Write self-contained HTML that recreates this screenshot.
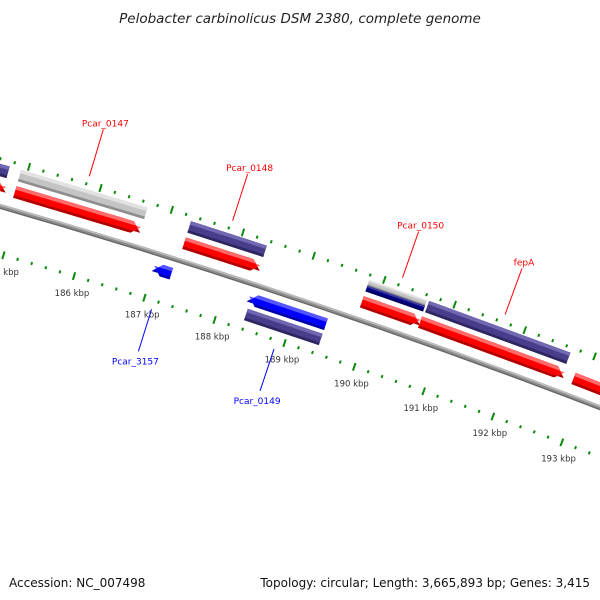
<!DOCTYPE html>
<html><head><meta charset="utf-8"><style>
html,body{margin:0;padding:0;background:#fff;}
svg{display:block;font-family:"DejaVu Sans","Liberation Sans",sans-serif;}
</style></head><body>
<svg id="map" width="600" height="600" viewBox="0 0 600 600">
<rect x="0" y="0" width="600" height="600" fill="#fff"/>
<text x="300" y="23" text-anchor="middle" font-size="13.5" font-style="italic" fill="#222">Pelobacter carbinolicus DSM 2380, complete genome</text>
<g id="ticks"></g>
<g id="backbone"></g>
<g id="features"></g>
<g id="labels"></g>
<text x="9" y="587" font-size="12" fill="#111">Accession: NC_007498</text>
<text x="590" y="587" font-size="12" fill="#111" text-anchor="end">Topology: circular; Length: 3,665,893 bp; Genes: 3,415</text>
</svg>
<script>
// data (kbp)
const featStart = [184.0, 184.91, 187.29, 189.81, 190.64, 192.84, 183.9, 184.91, 187.29, 189.81, 190.66, 187.03, 188.38, 188.38];
const featEnd   = [184.75, 186.64, 188.33, 190.61, 192.67, 194.6, 184.75, 186.68, 188.36, 190.63, 192.68, 187.25, 189.45, 189.45];
const featTrack = [18, 18, 18, 18, 18, 18, 35, 35, 35, 35, 35, -15, -15, -31];
const featStrand = [1, 1, 1, 1, 1, 1, 0, 0, 0, 0, 0, -1, -1, 0];
const featColor = ["red","red","red","red","red","red","slate","gray","slate","graynavy","slate","blue","blue","slate"];
const labelText = ["Pcar_0147","Pcar_0148","Pcar_0150","fepA","Pcar_3157","Pcar_0149"];
const labelKbp = [185.81, 187.82, 190.22, 191.68, 187.14, 188.89];
const labelSide = [1, 1, 1, 1, -1, -1];
const tickMajor = [183,184,185,186,187,188,189,190,191,192,193,194];
const tickLabels = ["183 kbp","184 kbp","185 kbp","186 kbp","187 kbp","188 kbp","189 kbp","190 kbp","191 kbp","192 kbp","193 kbp","194 kbp"];

const NS="http://www.w3.org/2000/svg";
const CX=-1997, CY=7152, R=7227;
function ang(k){return (-72.65+(k-187)*0.5875)*Math.PI/180;}
function pt(off,k){const a=ang(k);return [CX+(R+off)*Math.cos(a), CY+(R+off)*Math.sin(a)];}
function mk(tag,attrs,parent){const e=document.createElementNS(NS,tag);for(const k in attrs)e.setAttribute(k,attrs[k]);parent.appendChild(e);return e;}

// ticks
const tg=document.getElementById('ticks');
for(let i=0;i<=60;i++){
  const k=183+i*0.2;
  const major=Math.abs(k-Math.round(k))<1e-6;
  [46,-46].forEach(function(ring){
    const h=major?4:1.5;
    const a=pt(ring-h,k), b=pt(ring+h,k);
    const ln=mk('line',{x1:a[0],y1:a[1],x2:b[0],y2:b[1],stroke:'#0a8a0a','stroke-width':2},tg);
    
    
  });
}
tickMajor.forEach(function(k,i){
  const p=pt(-63.5,k);
  const t=mk('text',{x:p[0]+3,y:p[1]+3,'text-anchor':'middle','font-size':8.5,fill:'#333'},tg);
  t.textContent=tickLabels[i];
  
  
});

// backbone
const bg=document.getElementById('backbone');
function arcLine(off,col,w,parent,name){
  const a=pt(off,182.5), b=pt(off,195);
  const p=mk('path',{d:'M'+a[0]+','+a[1]+' A'+(R+off)+','+(R+off)+' 0 0 1 '+b[0]+','+b[1],fill:'none',stroke:col,'stroke-width':w},parent);
  
  
}
arcLine(0,'#8c8c8c',5,bg,'backbone-line');
arcLine(1.5,'#bdbdbd',1.6,bg,'backbone-highlight');
arcLine(-1.8,'#666',1.2,bg,'backbone-shadow');

// features
const palette={red:['#ff0000','#ff6b6b','#b00000'],slate:['#483d8b','#7068b0','#2c2560'],gray:['#c4c4c4','#e2e2e2','#8e8e8e'],blue:['#0000ff','#5555ff','#0000a8'],navy:['#000080','#3a3aa0','#000050']};
const fg=document.getElementById('features');
function bar(s,e,off,th,strand,cols,name){
  const hl=6/(R*0.5875*Math.PI/180);
  const o=off+th/2, i=off-th/2;
  function poly(oo,ii,col){
    let pts;
    if(strand===1){
      const e2=Math.max(s,e-hl);
      pts=[pt(oo,s),pt(oo,e2+(e-e2)*(off+th/2-oo)/(th/2)),pt(off,e),pt(ii,e2+(e-e2)*(ii-(off-th/2))/(th/2)),pt(ii,s)];
    } else if(strand===-1){
      const s2=Math.min(e,s+hl);
      pts=[pt(oo,s2-(s2-s)*(off+th/2-oo)/(th/2)),pt(oo,e),pt(ii,e),pt(ii,s2-(s2-s)*(ii-(off-th/2))/(th/2)),pt(off,s)];
    } else {
      pts=[pt(oo,s),pt(oo,e),pt(ii,e),pt(ii,s)];
    }
    const p=mk('polygon',{points:pts.map(function(q){return q[0].toFixed(2)+','+q[1].toFixed(2);}).join(' '),fill:col},fg);
    
    
  }
  poly(o,i,cols[0]);
  poly(o,o-th*0.3,cols[1]);
  poly(i+th*0.22,i,cols[2]);
}
for(let f=0;f<featStart.length;f++){
  const c=featColor[f];
  if(c==='graynavy'){
    bar(featStart[f],featEnd[f],featTrack[f]+3,6,0,palette.gray,'gene-feature');
    bar(featStart[f],featEnd[f],featTrack[f]-3,6,0,palette.navy,'gene-feature');
  } else {
    bar(featStart[f],featEnd[f],featTrack[f],12,featStrand[f],palette[c],'gene-feature');
  }
}

// labels
const lg=document.getElementById('labels');
labelText.forEach(function(txt,i){
  const side=labelSide[i], k=labelKbp[i];
  const col=side>0?'#ff0000':'#0000ff';
  const a=pt(side>0?54:-55,k), b=pt(side>0?103:-99,k);
  const ln=mk('line',{x1:a[0],y1:a[1],x2:b[0],y2:b[1],stroke:col,'stroke-width':1},lg);
  
  
  const t=mk('text',{x:b[0]+(side>0?2:-3),y:side>0?b[1]-3:b[1]+13,'text-anchor':'middle','font-size':9,fill:col},lg);
  t.textContent=txt;
  
  
});
</script>
</body></html>
